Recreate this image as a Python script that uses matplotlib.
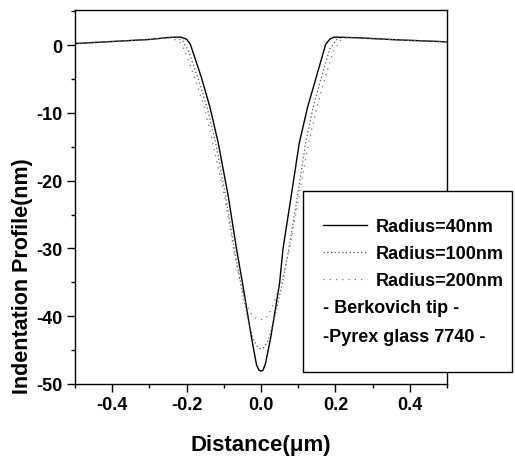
import matplotlib
matplotlib.use('Agg')
import matplotlib.pyplot as plt
from matplotlib.patches import Rectangle
from matplotlib.ticker import MultipleLocator

# indentation profiles (distance in um, depth in nm)
x40 = [-0.5, -0.4, -0.3, -0.248, -0.216, -0.2, -0.19, -0.16, -0.137, -0.115, -0.088, -0.066, -0.05,
       -0.026, -0.012, -0.005, 0.0, 0.005, 0.012, 0.026, 0.05, 0.059, 0.081, 0.103, 0.125, 0.148,
       0.174, 0.185, 0.196, 0.26, 0.365, 0.5]
y40 = [0.25, 0.55, 0.85, 1.15, 1.2, 0.9, 0.15, -4.8, -9.2, -14.4, -22.3, -30.0, -35.0,
       -43.0, -47.2, -48.0, -48.1, -48.0, -47.0, -43.2, -35.1, -30.1, -22.3, -14.4, -9.2, -4.8,
       0.15, 0.9, 1.2, 1.1, 0.8, 0.5]

x100 = [-0.5, -0.4, -0.3, -0.23, -0.21, -0.195, -0.17, -0.145, -0.122, -0.095, -0.072, -0.055,
        -0.035, -0.02, -0.008, 0.0, 0.008, 0.02, 0.035, 0.058, 0.075, 0.098, 0.12, 0.14, 0.162,
        0.185, 0.205, 0.22, 0.26, 0.365, 0.5]
y100 = [0.25, 0.55, 0.85, 1.2, 0.6, -0.8, -4.8, -9.2, -14.4, -22.3, -30.0, -35.0,
        -40.5, -43.5, -44.6, -44.8, -44.6, -43.5, -40.5, -35.0, -30.0, -22.3, -14.4, -9.2, -4.8,
        -0.5, 0.9, 1.2, 1.1, 0.8, 0.5]

x200 = [-0.5, -0.4, -0.3, -0.24, -0.215, -0.2, -0.178, -0.152, -0.13, -0.098, -0.074, -0.058,
        -0.04, -0.025, -0.01, 0.0, 0.01, 0.022, 0.038, 0.06, 0.077, 0.102, 0.128, 0.15, 0.172,
        0.195, 0.215, 0.23, 0.27, 0.365, 0.5]
y200 = [0.25, 0.55, 0.85, 1.1, 0.3, -1.5, -4.8, -9.2, -14.4, -22.3, -30.0, -34.5,
        -38.2, -39.8, -40.4, -40.5, -40.4, -39.6, -37.5, -34.0, -30.0, -22.3, -14.4, -9.2, -4.8,
        -0.8, 0.8, 1.1, 1.0, 0.8, 0.5]

labels = ['Radius=40nm', 'Radius=100nm', 'Radius=200nm']
notes = ['- Berkovich tip -', '-Pyrex glass 7740 -']

plt.rcParams['font.family'] = ['Liberation Sans', 'DejaVu Sans']
plt.rcParams['font.weight'] = 'bold'
plt.rcParams['axes.unicode_minus'] = False

fig = plt.figure(figsize=(5.15, 4.64), dpi=100)
ax = fig.add_axes([75 / 515, 1 - 385 / 464, 372 / 515, 374 / 464])

ax.plot(x40, y40, color='black', lw=1.0, label=labels[0])
ax.plot(x100, y100, color='#555555', lw=0.9, ls=(0, (1, 2)), label=labels[1])
ax.plot(x200, y200, color='#777777', lw=0.9, ls=(0, (1, 4)), label=labels[2])

ax.set_xlim(-0.5, 0.5)
ax.set_ylim(-50, 5.2)
ax.xaxis.set_major_locator(MultipleLocator(0.2))
ax.xaxis.set_minor_locator(MultipleLocator(0.1))
ax.yaxis.set_major_locator(MultipleLocator(10))
ax.yaxis.set_minor_locator(MultipleLocator(5))
ax.set_xticks([-0.4, -0.2, 0.0, 0.2, 0.4])
ax.set_xticklabels(['-0.4', '-0.2', '0.0', '0.2', '0.4'])
ax.tick_params(which='major', direction='out', length=6, width=1, labelsize=13, pad=3)
ax.tick_params(which='minor', direction='out', length=3, width=1)
for s in ax.spines.values():
    s.set_linewidth(1.0)

ax.set_xlabel('Distance(μm)', fontsize=16, fontweight='bold')
ax.set_ylabel('Indentation Profile(nm)', fontsize=15.5, fontweight='bold')
ax.xaxis.set_label_coords(0.5, -0.135)
ax.yaxis.set_label_coords(-0.112, 0.29)

# legend box sits partly outside the axes
box = Rectangle((303 / 515, 1 - 373 / 464), 209 / 515, 181 / 464, transform=fig.transFigure,
                facecolor='white', edgecolor='black', lw=1.0, zorder=5, clip_on=False)
ax.add_artist(box)
leg = ax.legend(loc='upper left', bbox_to_anchor=(323 / 515, 1 - 219 / 464),
                bbox_transform=fig.transFigure, frameon=False, fontsize=13,
                handlelength=2.45, handletextpad=0.45, labelspacing=0.56,
                borderpad=0, borderaxespad=0)
leg.set_zorder(6)
for i, t in enumerate(notes):
    fig.text(323 / 515, 1 - (309 + 28.5 * i) / 464, t, fontsize=13, fontweight='bold',
             va='center', ha='left', zorder=6)

fig.savefig('out.png', dpi=100)
